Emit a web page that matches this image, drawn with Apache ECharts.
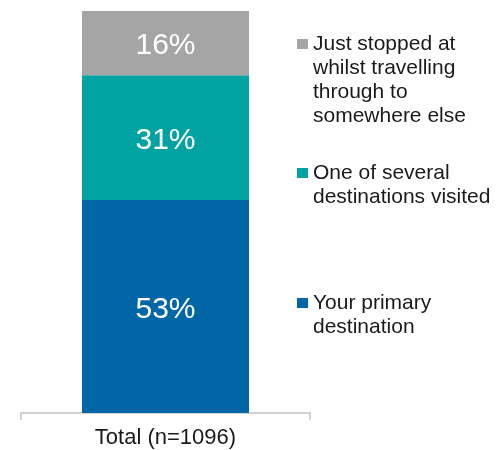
<!DOCTYPE html>
<html>
<head>
<meta charset="utf-8">
<style>
  html, body { margin: 0; padding: 0; background: #fff; }
  #chart { width: 496px; height: 450px; }
</style>
<script src="https://cdn.jsdelivr.net/npm/echarts@6/dist/echarts.min.js"></script>
</head>
<body>
<div id="chart"></div>
<script>
// Survey breakdown: how the destination fitted into the trip
const categories = ['Total (n=1096)'];
const seriesNames = [
  'Your primary destination',
  'One of several destinations visited',
  'Just stopped at whilst travelling through to somewhere else'
];
const legendLabels = [
  'Your primary\ndestination',
  'One of several\ndestinations visited',
  'Just stopped at\nwhilst travelling\nthrough to\nsomewhere else'
];
const primaryValues = [53];
const severalValues = [31];
const stoppedValues = [16];

const colors = ['#0066a6', '#00a3a1', '#a5a5a5'];
const seriesValues = [primaryValues, severalValues, stoppedValues];

const LINE_H = 24;
const FONT = 'Liberation Sans, Arial, sans-serif';

// icon top position for each legend entry
const legendIconTops = [298, 168, 39];
const ICON_H = 10;

const chart = echarts.init(document.getElementById('chart'), null, { renderer: 'canvas' });

const legends = seriesNames.map(function (name, i) {
  const lines = legendLabels[i].split('\n').length;
  // the legend centres its text on the icon, so empty lines above the label
  // bring the first line level with the icon
  const lead = new Array(lines).join('\n');
  const blockH = (2 * lines - 1) * LINE_H;
  const offset = ICON_H / 2 - blockH / 2;
  return {
    data: [name],
    left: 297,
    top: legendIconTops[i] + offset,
    padding: 0,
    icon: 'rect',
    itemWidth: 11,
    itemHeight: ICON_H,
    selectedMode: false,
    formatter: function () { return lead + legendLabels[i]; },
    textStyle: {
      fontFamily: FONT,
      fontSize: 21,
      lineHeight: LINE_H,
      color: '#1a1a1a'
    }
  };
});

const series = seriesNames.map(function (name, i) {
  return {
    name: name,
    type: 'bar',
    stack: 'total',
    data: seriesValues[i],
    barWidth: 167,
    itemStyle: { color: colors[i] },
    label: {
      show: true,
      position: 'inside',
      offset: [0, 3],
      formatter: '{c}%',
      color: '#ffffff',
      fontFamily: FONT,
      fontSize: 30
    }
  };
});

chart.setOption({
  animation: false,
  color: colors,
  legend: legends,
  grid: { left: 21, right: 186, top: 11, bottom: 37, containLabel: false },
  xAxis: {
    type: 'category',
    data: categories,
    axisLine: { show: true, lineStyle: { color: '#c4c4c4', width: 1.5 } },
    axisTick: { show: true, length: 7, lineStyle: { color: '#c4c4c4', width: 1.5 } },
    axisLabel: {
      color: '#1a1a1a',
      fontFamily: FONT,
      fontSize: 22,
      margin: 14
    }
  },
  yAxis: {
    type: 'value',
    min: 0,
    max: 100,
    show: false,
    splitLine: { show: false }
  },
  series: series
});
</script>
</body>
</html>
